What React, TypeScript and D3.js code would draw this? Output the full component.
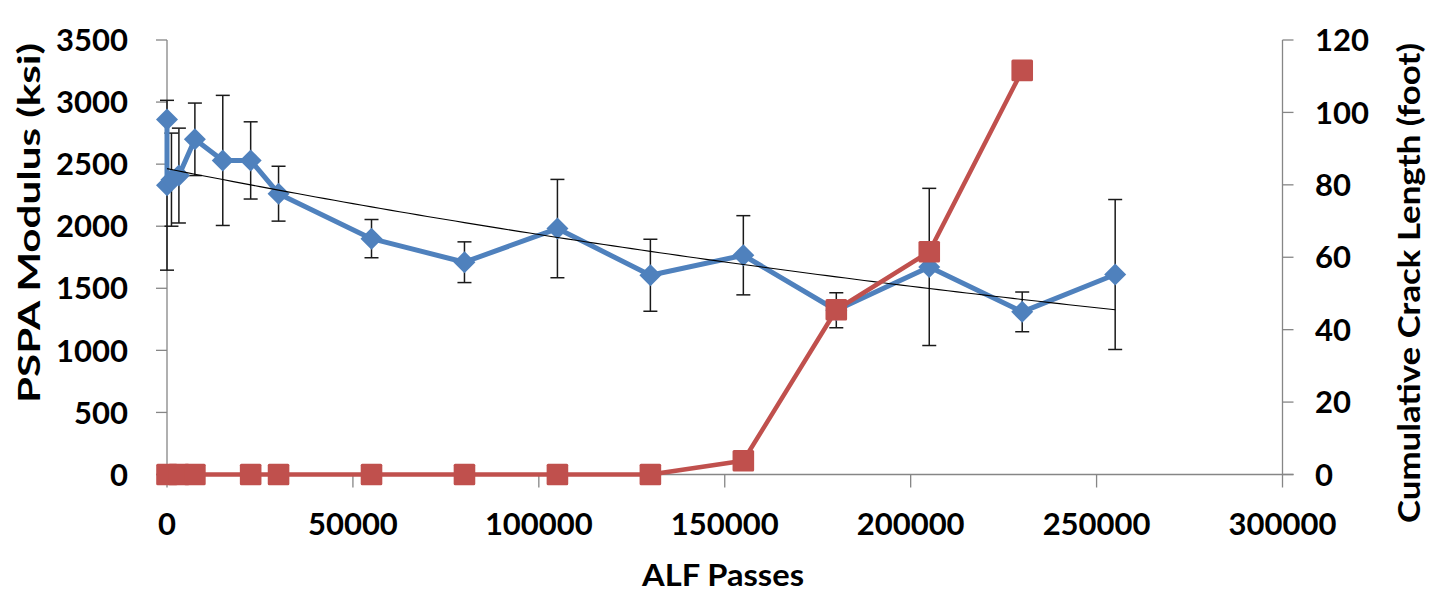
import React from "react";
import * as d3 from "d3";

// ---- data ----
const passes = [0, 0, 1200, 3200, 7500, 15000, 22500, 30000, 55000, 80000, 105000, 130000, 155000, 180000, 205000, 230000, 255000];
const modulus = [2860, 2330, 2375, 2408, 2700, 2530, 2530, 2262, 1900, 1710, 1981, 1605, 1766, 1323, 1672, 1310, 1611];
const modulusErr = [0, 684, 375, 382, 292, 524, 311, 221, 154, 164, 396, 290, 319, 141, 633, 160, 604];

const crackPasses = [0, 3200, 7500, 22500, 30000, 55000, 80000, 105000, 130000, 155000, 180000, 205000, 230000];
const crackLength = [0, 0, 0, 0, 0, 0, 0, 0, 0, 3.8, 45.5, 61.5, 111.6];

const xTicks = [0, 50000, 100000, 150000, 200000, 250000, 300000];
const yLeftTicks = [0, 500, 1000, 1500, 2000, 2500, 3000, 3500];
const yRightTicks = [0, 20, 40, 60, 80, 100, 120];

const BLUE = "#4F81BD";
const RED = "#C0504D";
const AXIS = "#868686";
const FONT = "Lato, 'Open Sans', sans-serif";

export default function App() {
  const x = d3.scaleLinear().domain([0, 300000]).range([167, 1282.5]);
  const yL = d3.scaleLinear().domain([0, 3500]).range([474.5, 40]);
  const yR = d3.scaleLinear().domain([0, 120]).range([474.5, 40]);

  // exponential trendline (least squares on ln y), as in the spreadsheet
  const lnY = modulus.map((v) => Math.log(v));
  const mx = d3.mean(passes)!;
  const my = d3.mean(lnY)!;
  let sxx = 0, sxy = 0;
  passes.forEach((p, i) => {
    sxx += (p - mx) * (p - mx);
    sxy += (p - mx) * (lnY[i] - my);
  });
  const b = sxy / sxx;
  const a = Math.exp(my - b * mx);
  const trendXs = d3.range(0, 255001, 2500);
  const trendLine = d3
    .line<number>()
    .x((p) => x(p))
    .y((p) => yL(a * Math.exp(b * p)));

  const blueLine = d3
    .line<number>()
    .x((_, i) => x(passes[i]))
    .y((v) => yL(v));
  const redLine = d3
    .line<number>()
    .x((_, i) => x(crackPasses[i]))
    .y((v) => yR(v));

  const tickFont = { fontFamily: FONT, fontWeight: 700, fontSize: 31 } as const;
  const titleFont = { fontFamily: FONT, fontWeight: 700, fontSize: 30 } as const;

  return (
    <svg
      width={1437}
      height={595}
      style={{ position: "absolute", left: 0, top: 0, background: "#fff" }}
    >
      {/* axes */}
      <g stroke={AXIS} strokeWidth={1.3} fill="none">
        <line x1={x(0)} x2={x(0)} y1={yL(3500)} y2={yL(0)} />
        <line x1={x(300000)} x2={x(300000)} y1={yR(120)} y2={yR(0)} />
        <line x1={x(0) - 11} x2={x(300000) + 11} y1={yL(0)} y2={yL(0)} />
        {yLeftTicks.map((t) => (
          <line key={"lt" + t} x1={x(0) - 11} x2={x(0)} y1={yL(t)} y2={yL(t)} />
        ))}
        {yRightTicks.map((t) => (
          <line key={"rt" + t} x1={x(300000)} x2={x(300000) + 11} y1={yR(t)} y2={yR(t)} />
        ))}
        {xTicks.map((t) => (
          <line key={"xt" + t} x1={x(t)} x2={x(t)} y1={yL(0)} y2={yL(0) + 13} />
        ))}
      </g>

      {/* tick labels */}
      {yLeftTicks.map((t) => (
        <text key={"ll" + t} x={128} y={yL(t)} dy="0.36em" textAnchor="end" {...tickFont}>
          {t}
        </text>
      ))}
      {yRightTicks.map((t) => (
        <text key={"rl" + t} x={1315} y={yR(t)} dy="0.36em" textAnchor="start" {...tickFont}>
          {t}
        </text>
      ))}
      {xTicks.map((t) => (
        <text key={"xl" + t} x={x(t)} y={535} textAnchor="middle" {...tickFont}>
          {t}
        </text>
      ))}

      {/* axis titles */}
      <text
        x={723}
        y={586}
        textAnchor="middle"
        textLength={162}
        lengthAdjust="spacingAndGlyphs"
        {...titleFont}
      >
        ALF Passes
      </text>
      <text
        transform={`translate(40,223) rotate(-90)`}
        textAnchor="middle"
        textLength={360}
        lengthAdjust="spacingAndGlyphs"
        {...titleFont}
      >
        PSPA Modulus (ksi)
      </text>
      <text
        transform={`translate(1420,283) rotate(-90)`}
        textAnchor="middle"
        textLength={480}
        lengthAdjust="spacingAndGlyphs"
        {...titleFont}
      >
        Cumulative Crack Length (foot)
      </text>

      {/* error bars */}
      <g stroke="#1a1a1a" strokeWidth={1.5}>
        {passes.map((p, i) =>
          modulusErr[i] > 0 ? (
            <g key={"e" + i}>
              <line x1={x(p)} x2={x(p)} y1={yL(modulus[i] + modulusErr[i])} y2={yL(modulus[i] - modulusErr[i])} />
              <line x1={x(p) - 7} x2={x(p) + 7} y1={yL(modulus[i] + modulusErr[i])} y2={yL(modulus[i] + modulusErr[i])} />
              <line x1={x(p) - 7} x2={x(p) + 7} y1={yL(modulus[i] - modulusErr[i])} y2={yL(modulus[i] - modulusErr[i])} />
            </g>
          ) : null
        )}
      </g>

      {/* modulus series */}
      <path d={blueLine(modulus)!} fill="none" stroke={BLUE} strokeWidth={5} strokeLinejoin="round" />
      {modulus.map((v, i) => {
        const cx = x(passes[i]);
        const cy = yL(v);
        const r = 11;
        return (
          <path
            key={"d" + i}
            d={`M${cx},${cy - r}L${cx + r},${cy}L${cx},${cy + r}L${cx - r},${cy}Z`}
            fill={BLUE}
          />
        );
      })}

      {/* trendline */}
      <path d={trendLine(trendXs)!} fill="none" stroke="#000" strokeWidth={1.1} />

      {/* crack series */}
      <path d={redLine(crackLength)!} fill="none" stroke={RED} strokeWidth={4.5} strokeLinejoin="round" />
      {crackLength.map((v, i) => (
        <rect
          key={"s" + i}
          x={x(crackPasses[i]) - 10.8}
          y={yR(v) - 10.8}
          width={21.6}
          height={21.6}
          rx={1.5}
          fill={RED}
        />
      ))}
    </svg>
  );
}
